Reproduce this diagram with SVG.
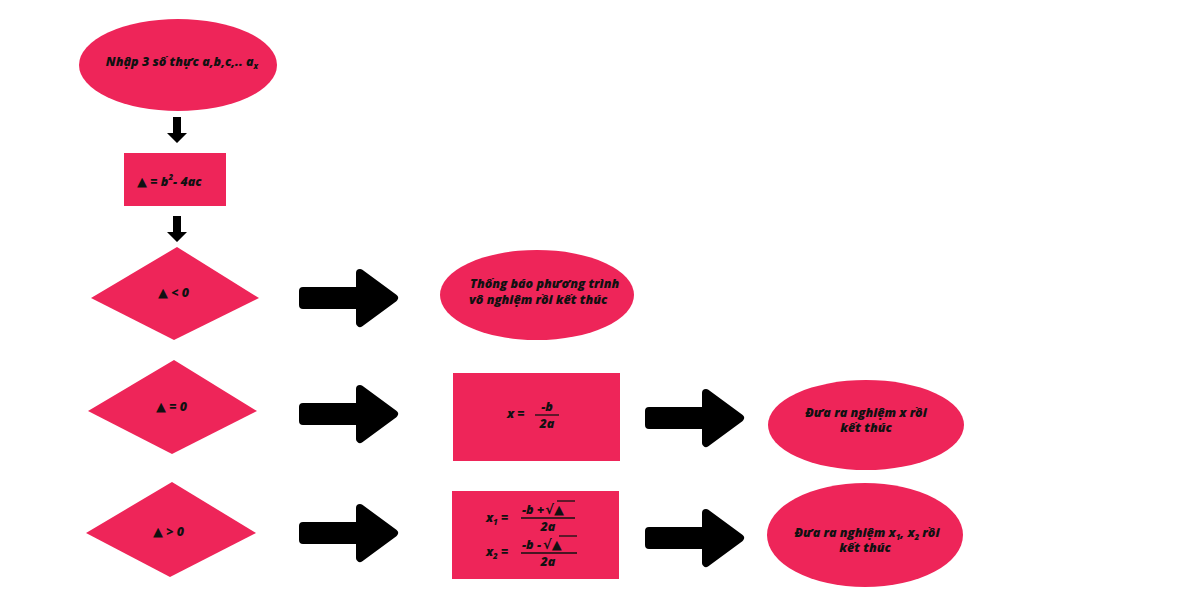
<svg xmlns="http://www.w3.org/2000/svg" width="1200" height="600" viewBox="0 0 1200 600">
<defs>
<style>
.n{fill:#EE2559;}
.t{font-family:"Open Sans","DejaVu Sans",sans-serif;font-weight:800;font-style:italic;font-size:12.5px;fill:#111;}
.tri{font-family:"DejaVu Sans",sans-serif;font-style:normal;font-size:13px;}
.sm{font-size:8px;}
.ar{fill:#000;stroke:#000;stroke-width:8;stroke-linejoin:round;}
.fl{stroke:#111;stroke-width:1.3;}
</style>
<path id="bigArrow" d="M4,-7 H61 V-25 L95,0 L61,25 V7 H4 Z"/>
<path id="downArrow" d="M-4,0 H4 V16 H10 L0,26 L-10,16 H-4 Z"/>
</defs>
<rect width="1200" height="600" fill="#fff"/>

<g id="connectors">
<use href="#downArrow" x="177" y="117" fill="#000"/>
<use href="#downArrow" x="177" y="216" fill="#000"/>
<use href="#bigArrow" class="ar" x="299" y="298"/>
<use href="#bigArrow" class="ar" x="299" y="414"/>
<use href="#bigArrow" class="ar" x="299" y="533"/>
<use href="#bigArrow" class="ar" x="645" y="418"/>
<use href="#bigArrow" class="ar" x="645" y="538"/>
</g>

<g id="start">
<ellipse class="n" cx="178" cy="65" rx="99" ry="46"/>
<text class="t" x="182" y="66" text-anchor="middle">Nhập 3 số thực a,b,c,.. a<tspan class="sm" dy="3">x</tspan></text>
</g>

<g id="delta">
<rect class="n" x="124" y="153" width="102" height="53"/>
<text class="t" x="137" y="186"><tspan class="tri">▲</tspan> = b<tspan class="sm" dy="-6">2</tspan><tspan dy="6">- 4ac</tspan></text>
</g>

<g id="cond1">
<polygon class="n" points="177,247 259,298 174,340 91,298"/>
<text class="t" x="158" y="297"><tspan class="tri">▲</tspan> &lt; 0</text>
</g>

<g id="cond2">
<polygon class="n" points="174,360 257,411 172,454 88,411"/>
<text class="t" x="156" y="411"><tspan class="tri">▲</tspan> = 0</text>
</g>

<g id="cond3">
<polygon class="n" points="172,482 256,533 170,577 86,533"/>
<text class="t" x="153" y="536"><tspan class="tri">▲</tspan> &gt; 0</text>
</g>

<g id="noroot">
<ellipse class="n" cx="537" cy="295" rx="97" ry="45"/>
<text class="t" x="470" y="288">Thống báo phương trình</text>
<text class="t" x="469" y="304">vô nghiệm rồi kết thúc</text>
</g>

<g id="oneroot">
<rect class="n" x="453" y="373" width="167" height="88"/>
<text class="t" x="507" y="418">x =</text>
<text class="t" x="547" y="411" text-anchor="middle">-b</text>
<line class="fl" x1="535" y1="415" x2="559" y2="415"/>
<text class="t" x="547" y="428" text-anchor="middle">2a</text>
</g>

<g id="tworoots">
<rect class="n" x="452" y="491" width="167" height="88"/>
<text class="t" x="486" y="522">x<tspan class="sm" dy="3">1</tspan><tspan dy="-3"> =</tspan></text>
<text class="t" x="522" y="514">-b +<tspan class="tri" font-size="18px" font-weight="bold" dx="1">√</tspan><tspan class="tri" font-size="15px">▲</tspan></text>
<line class="fl" x1="557" y1="501" x2="575" y2="501" stroke-width="1.8"/>
<line class="fl" x1="521" y1="518" x2="575" y2="518"/>
<text class="t" x="548" y="531" text-anchor="middle">2a</text>
<text class="t" x="486" y="556">x<tspan class="sm" dy="3">2</tspan><tspan dy="-3"> =</tspan></text>
<text class="t" x="522" y="549">-b  -<tspan class="tri" font-size="18px" font-weight="bold" dx="2">√</tspan><tspan class="tri" font-size="15px">▲</tspan></text>
<line class="fl" x1="559" y1="536" x2="577" y2="536" stroke-width="1.8"/>
<line class="fl" x1="521" y1="553" x2="577" y2="553"/>
<text class="t" x="548" y="566" text-anchor="middle">2a</text>
</g>

<g id="end1">
<ellipse class="n" cx="866" cy="425" rx="98" ry="45"/>
<text class="t" x="866" y="417" text-anchor="middle">Đưa ra nghiệm x rồi</text>
<text class="t" x="866" y="432" text-anchor="middle">kết thúc</text>
</g>

<g id="end2">
<ellipse class="n" cx="865" cy="535" rx="98" ry="52"/>
<text class="t" x="867" y="537" text-anchor="middle">Đưa ra nghiệm x<tspan class="sm" dy="3">1</tspan><tspan dy="-3">, x</tspan><tspan class="sm" dy="3">2</tspan><tspan dy="-3"> rồi</tspan></text>
<text class="t" x="865" y="552" text-anchor="middle">kết thúc</text>
</g>
</svg>
